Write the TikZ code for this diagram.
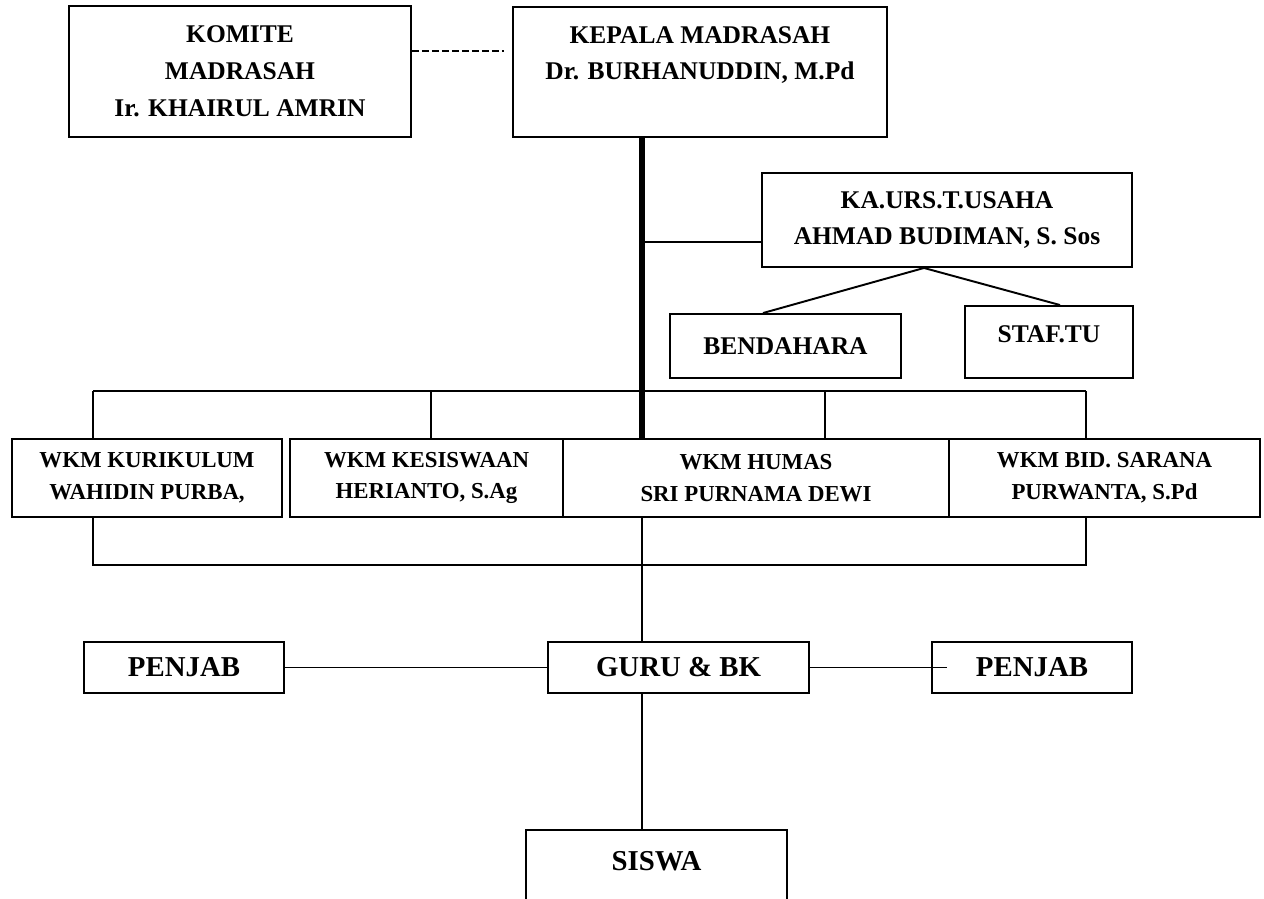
\documentclass[tikz,border=0pt]{standalone}
\usepackage{fontspec}
\setmainfont{Liberation Serif}
\begin{document}
\begin{tikzpicture}[x=0.2mm,y=-0.2mm,
 box/.style={draw,line width=1.1pt,align=center,inner sep=0pt},
 top/.style={box,font=\fontsize{14.5}{21}\selectfont\bfseries},
 wkm/.style={box,font=\fontsize{13}{18}\selectfont\bfseries,minimum height=15.6mm},
 low/.style={box,font=\fontsize{16.4}{20}\selectfont\bfseries,minimum height=10.2mm},
 link/.style={line width=1.1pt},
 spineline/.style={line width=3.4pt},
 dashlink/.style={line width=1.7pt,dash pattern=on 1.4mm off 0.6mm}]
 \useasboundingbox (0,0) rectangle (1264,899);
 \clip (0,0) rectangle (1264,899);
 \node[top,minimum width=68.4mm,minimum height=26.2mm] (komite) at (240,71.5) {KOMITE\\MADRASAH\\Ir. KHAIRUL AMRIN};
 \node[top,anchor=north,minimum width=74.8mm,text height=14.6mm,text depth=11.4mm] (kepala) at (700,6) {KEPALA MADRASAH\\Dr. BURHANUDDIN, M.Pd};
 \node[top,minimum width=74mm,minimum height=18.8mm] (kaurs) at (947,220) {KA.URS.T.USAHA\\AHMAD BUDIMAN, S. Sos};
 \node[top,minimum width=46.2mm,minimum height=12.8mm] (bendahara) at (785.5,346) {BENDAHARA};
 \node[top,minimum width=33.6mm,text height=7.2mm,text depth=7.2mm] (staftu) at (1049,342) {STAF.TU};
 \node[wkm,minimum width=54mm] (kurikulum) at (147,478) {WKM KURIKULUM\\WAHIDIN PURBA,};
 \node[wkm,minimum width=54.6mm] (kesiswaan) at (426.5,478) {WKM KESISWAAN\\HERIANTO, S.Ag};
 \node[wkm,minimum width=77.2mm] (humas) at (756,478) {WKM HUMAS\\SRI PURNAMA DEWI};
 \node[wkm,minimum width=62.2mm] (sarana) at (1104.5,478) {WKM BID. SARANA\\PURWANTA, S.Pd};
 \node[low,minimum width=40mm] (penjabl) at (184,667.5) {PENJAB};
 \node[low,minimum width=52.2mm] (guru) at (678.5,667.5) {GURU \& BK};
 \node[low,minimum width=40mm] (penjabr) at (1032,667.5) {PENJAB};
 \node[low,anchor=north,minimum width=52.2mm,text height=8.1mm,text depth=20mm] (siswa) at (656.5,829) {SISWA};
 \coordinate (spine) at (642,391);
 \coordinate (ka) at (642,242);
 \coordinate (t1) at (93,391);
 \coordinate (t2) at (431,391);
 \coordinate (t3) at (825,391);
 \coordinate (t4) at (1086,391);
 \coordinate (b1) at (93,565);
 \coordinate (b4) at (1086,565);
 \draw[dashlink,shorten >=1.6mm] (komite.east |- 0,51) -- (kepala.west |- 0,51);
 \draw[spineline] (kepala.south -| spine) -- (humas.north -| spine);
 \draw[link] (ka) -- (ka -| kaurs.west);
 \draw[link] ([xshift=-4.6mm]kaurs.south) -- ([xshift=-4.5mm]bendahara.north);
 \draw[link] ([xshift=-4.6mm]kaurs.south) -- ([xshift=2.2mm]staftu.north);
 \draw[link] (t1) -- (t4);
 \foreach \t/\n in {t1/kurikulum,t2/kesiswaan,t3/humas,t4/sarana} \draw[link] (\t) -- (\t |- \n.north);
 \draw[link] (kurikulum.south -| b1) -- (b1) -- (b4) -- (sarana.south -| b4);
 \draw[link] (humas.south -| spine) -- (guru.north -| spine);
 \draw[link] (guru.south -| spine) -- (siswa.north -| spine);
 \draw[link] (penjabl.east) -- (guru.west);
 \draw[link] (guru.east) -- ([xshift=3.2mm]penjabr.west);
\end{tikzpicture}
\end{document}
